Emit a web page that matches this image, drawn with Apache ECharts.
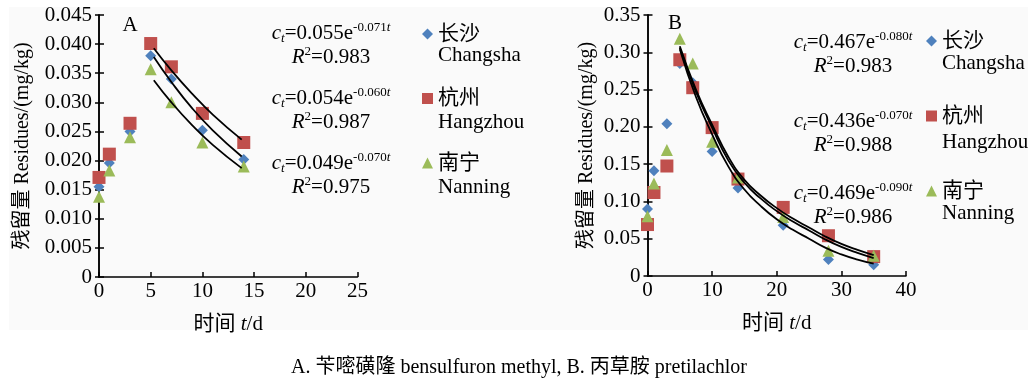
<!DOCTYPE html>
<html>
<head>
<meta charset="utf-8">
<script src="https://cdn.jsdelivr.net/npm/echarts@6.0.0/dist/echarts.min.js"></script>
<style>
  html, body { margin: 0; padding: 0; background: #fff; }
  #main { width: 1034px; height: 381px; }
</style>
</head>
<body>
<div id="main"></div>
<script>
// A: 苄嘧磺隆，残留量 mg/kg
const daysA = [0, 1, 3, 5, 7, 10, 14];
const changshaA = [0.0155, 0.0196, 0.0250, 0.0380, 0.0340, 0.0252, 0.0202];
const hangzhouA = [0.0171, 0.0211, 0.0264, 0.0401, 0.0361, 0.0281, 0.0231];
const nanningA = [0.0138, 0.0183, 0.0240, 0.0357, 0.0300, 0.0231, 0.0190];
// 拟合曲线
const fitDaysA = [5.3, 7, 9, 11, 13.8];
const fitChangshaA = [0.0378, 0.0335, 0.0290, 0.0252, 0.0207];
const fitHangzhouA = [0.0393, 0.0355, 0.0315, 0.0279, 0.0236];
const fitNanningA = [0.0338, 0.0300, 0.0261, 0.0227, 0.0187];

// B: 丙草胺
const daysB = [0, 1, 3, 5, 7, 10, 14, 21, 28, 35];
const changshaB = [0.090, 0.141, 0.204, 0.285, 0.259, 0.167, 0.118, 0.068, 0.022, 0.015];
const hangzhouB = [0.069, 0.112, 0.1475, 0.290, 0.2525, 0.199, 0.130, 0.092, 0.054, 0.026];
const nanningB = [0.080, 0.124, 0.169, 0.318, 0.285, 0.180, 0.132, 0.079, 0.034, 0.027];
const fitDaysB = [5, 7.5, 10, 12.5, 15, 17.5, 20, 22.5, 25, 27.5, 30, 32.5, 35];
const fitHangzhouB = [0.308, 0.250, 0.203, 0.160, 0.129, 0.108, 0.091, 0.077, 0.065, 0.053, 0.043, 0.035, 0.028];
const fitChangshaB = [0.306, 0.247, 0.199, 0.155, 0.125, 0.104, 0.087, 0.073, 0.061, 0.049, 0.039, 0.031, 0.024];
const fitNanningB = [0.304, 0.240, 0.190, 0.147, 0.116, 0.094, 0.076, 0.062, 0.050, 0.038, 0.029, 0.022, 0.0165];

// 方程文字：[系数, 指数, R2]
const eqA = [['0.055', '-0.071', '0.983'], ['0.054', '-0.060', '0.987'], ['0.049', '-0.070', '0.975']];
const eqB = [['0.467', '-0.080', '0.983'], ['0.436', '-0.070', '0.988'], ['0.469', '-0.090', '0.986']];
const sites = ['长沙', '杭州', '南宁'];
const sitesEn = ['Changsha', 'Hangzhou', 'Nanning'];

const FONT = "'Liberation Serif', 'Noto Sans CJK SC', serif";
const colors = ['#4F81BD', '#C0504D', '#9BBB59'];
const symbols = ['diamond', 'rect', 'triangle'];
const symbolSizes = [11, 13, 12];

function zip(xs, ys) {
  return xs.map((x, i) => [x, ys[i]]);
}

function scatter(idx, days, vals, axis) {
  return {
    type: 'scatter',
    name: sites[idx],
    xAxisIndex: axis, yAxisIndex: axis * 2,
    symbol: symbols[idx],
    symbolSize: symbolSizes[idx],
    itemStyle: { color: colors[idx], opacity: 1 },
    data: zip(days, vals),
    z: 2 + idx * 0.1
  };
}

function fitLine(name, days, vals, axis) {
  return {
    type: 'line',
    name: name,
    xAxisIndex: axis, yAxisIndex: axis * 2,
    data: zip(days, vals),
    smooth: true,
    showSymbol: false,
    lineStyle: { color: '#000', width: 1.8 },
    z: 4
  };
}

const rich = {
  i: { fontFamily: FONT, fontSize: 21, fontStyle: 'italic', lineHeight: 24, color: '#000' },
  n: { fontFamily: FONT, fontSize: 21, lineHeight: 24, color: '#000' },
  sub: { fontFamily: FONT, fontSize: 13, fontStyle: 'italic', lineHeight: 13, verticalAlign: 'bottom', color: '#000' },
  sup: { fontFamily: FONT, fontSize: 13, lineHeight: 13, verticalAlign: 'top', color: '#000' },
  supi: { fontFamily: FONT, fontSize: 13, fontStyle: 'italic', lineHeight: 13, verticalAlign: 'top', color: '#000' }
};

function eqText(e, x, y) {
  return {
    type: 'text', x: x, y: y, z: 10,
    style: {
      text: '{i|c}{sub|t}{n|=' + e[0] + 'e}{sup|' + e[1] + '}{supi|t}\n{i|R}{sup|2}{n|=' + e[2] + '}',
      rich: rich,
      align: 'center',
      verticalAlign: 'middle'
    }
  };
}

function plainText(txt, x, y, size, align) {
  return {
    type: 'text', x: x, y: y, z: 10,
    style: {
      text: txt, fontFamily: FONT, fontSize: size, fill: '#000',
      align: align || 'left', verticalAlign: 'middle'
    }
  };
}

function yAxes(grid, max, interval, digits, gap) {
  const base = {
    gridIndex: grid, type: 'value', min: 0, max: max, interval: interval,
    position: 'left', offset: 0,
    splitLine: { show: false },
    axisLine: { show: true, lineStyle: { color: '#000', width: 1.5 } }
  };
  return [
    Object.assign({}, base, {
      name: '残留量 Residues/(mg/kg)',
      nameLocation: 'middle', nameRotate: 90, nameGap: gap,
      nameTextStyle: { fontFamily: FONT, fontSize: 20, color: '#000' },
      axisTick: { show: true, inside: false, length: 4, lineStyle: { color: '#000', width: 1.5 } },
      axisLabel: {
        fontFamily: FONT, fontSize: 21, color: '#000', margin: 7,
        formatter: v => (v === 0 ? '0' : v.toFixed(digits))
      }
    }),
    Object.assign({}, base, {
      axisTick: { show: true, inside: true, length: 5, lineStyle: { color: '#000', width: 1.5 } },
      axisLabel: { show: false }
    })
  ];
}

function xAxis(grid, max, interval) {
  return {
    gridIndex: grid, type: 'value', min: 0, max: max, interval: interval,
    splitLine: { show: false },
    axisLine: { lineStyle: { color: '#000', width: 1.5 } },
    axisTick: { inside: true, length: 5, lineStyle: { color: '#000', width: 1.5 } },
    axisLabel: { fontFamily: FONT, fontSize: 21, color: '#000', margin: 4 },
    name: '{a|时间 }{b|t}{a|/d}',
    nameLocation: 'middle', nameGap: 37,
    nameTextStyle: {
      rich: {
        a: { fontFamily: FONT, fontSize: 21, color: '#000' },
        b: { fontFamily: FONT, fontSize: 21, fontStyle: 'italic', color: '#000' }
      }
    }
  };
}

const chart = echarts.init(document.getElementById('main'), null, { renderer: 'canvas' });

const graphics = [
  { type: 'rect', shape: { x: 9, y: 7, width: 1019, height: 323 }, style: { fill: '#fafafa' }, z: -10, silent: true },
  plainText('A', 130, 25, 21, 'center'),
  plainText('B', 675, 23, 21, 'center'),
  plainText('A. 苄嘧磺隆 bensulfuron methyl, B. 丙草胺 pretilachlor', 519, 368, 20, 'center')
];
const eqYA = [45, 110.5, 175.5];
const eqYB = [54, 133.5, 205.5];
const enYA = [55, 122, 187];
const enYB = [63, 142, 213];
eqA.forEach((e, i) => graphics.push(eqText(e, 331, eqYA[i])));
eqB.forEach((e, i) => graphics.push(eqText(e, 853, eqYB[i])));
sitesEn.forEach((s, i) => {
  graphics.push(plainText(s, 438, enYA[i], 21));
  graphics.push(plainText(s, 942, enYB[i], 21));
});

const legendBase = {
  orient: 'vertical',
  data: sites,
  itemWidth: 11, itemHeight: 11,
  selectedMode: false,
  textStyle: { fontFamily: FONT, fontSize: 21, lineHeight: 22, color: '#000', padding: [0, 0, 0, 0] }
};

const option = {
  backgroundColor: '#fff',
  animation: false,
  textStyle: { fontFamily: FONT },
  grid: [
    { left: 99, top: 15, width: 258.5, height: 262 },
    { left: 647.5, top: 15, width: 258.5, height: 261 }
  ],
  xAxis: [xAxis(0, 25, 5), xAxis(1, 40, 10)],
  yAxis: yAxes(0, 0.045, 0.005, 3, 66).concat(yAxes(1, 0.35, 0.05, 2, 51)),
  legend: [
    Object.assign({}, legendBase, { left: 417, top: 18, itemGap: 42.5 }),
    Object.assign({}, legendBase, { left: 921, top: 25, itemGap: 53 })
  ],
  graphic: graphics,
  series: [
    scatter(0, daysA, changshaA, 0),
    scatter(1, daysA, hangzhouA, 0),
    scatter(2, daysA, nanningA, 0),
    fitLine('拟合长沙A', fitDaysA, fitChangshaA, 0),
    fitLine('拟合杭州A', fitDaysA, fitHangzhouA, 0),
    fitLine('拟合南宁A', fitDaysA, fitNanningA, 0),
    scatter(0, daysB, changshaB, 1),
    scatter(1, daysB, hangzhouB, 1),
    scatter(2, daysB, nanningB, 1),
    fitLine('拟合长沙B', fitDaysB, fitChangshaB, 1),
    fitLine('拟合杭州B', fitDaysB, fitHangzhouB, 1),
    fitLine('拟合南宁B', fitDaysB, fitNanningB, 1)
  ]
};

chart.setOption(option);
</script>
</body>
</html>
